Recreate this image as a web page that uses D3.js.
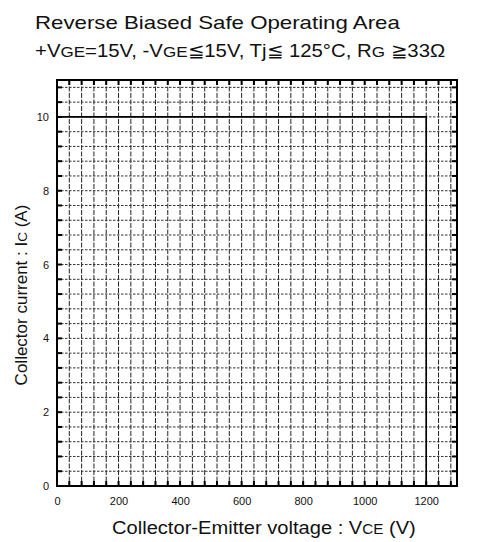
<!DOCTYPE html>
<html><head><meta charset="utf-8">
<script src="https://cdn.jsdelivr.net/npm/d3@7"></script>
<style>body{margin:0;background:#fff;} text{font-family:"Liberation Sans",Arial,sans-serif;fill:#111;}</style>
</head><body><svg id="c" width="479" height="542"></svg>
<script>
const xTicks = [0, 200, 400, 600, 800, 1000, 1200];
const yTicks = [0, 2, 4, 6, 8, 10];
const xDomain = [0, 1300];
const yDomain = [0, 11];
const xGridStep = 40;
const yGridStep = 0.4;
const soaV = [0, 1200, 1200];
const soaI = [10, 10, 0];

const svg = d3.select("#c");
const L = 57, R = 457, T = 80, B = 486;
const x = d3.scaleLinear().domain(xDomain).range([L, R]);
const y = d3.scaleLinear().domain(yDomain).range([B, T]);

const xg = d3.range(xGridStep, xDomain[1], xGridStep);
const yg = d3.range(yGridStep, yDomain[1] - 1e-9, yGridStep).map(v => +v.toFixed(2));

const g = svg.append("g");
g.selectAll(".vg").data(xg).enter().append("line")
  .attr("x1", d => x(d)).attr("x2", d => x(d)).attr("y1", T).attr("y2", B)
  .attr("stroke", "#222").attr("stroke-width", 1).attr("stroke-dasharray", "5,1.5");
g.selectAll(".hg").data(yg).enter().append("line")
  .attr("y1", d => y(d)).attr("y2", d => y(d)).attr("x1", L).attr("x2", R)
  .attr("stroke", "#333").attr("stroke-width", 1).attr("stroke-dasharray", "2.5,1.5");

// inner ticks
g.selectAll(".lt").data(yg).enter().append("line")
  .attr("x1", L).attr("x2", L + 5).attr("y1", d => y(d)).attr("y2", d => y(d))
  .attr("stroke", "#000").attr("stroke-width", 2);
g.selectAll(".rt").data(yg).enter().append("line")
  .attr("x1", R - 5).attr("x2", R).attr("y1", d => y(d)).attr("y2", d => y(d))
  .attr("stroke", "#000").attr("stroke-width", 2);
g.selectAll(".tt").data(xg).enter().append("line")
  .attr("x1", d => x(d)).attr("x2", d => x(d)).attr("y1", T).attr("y2", T + 5)
  .attr("stroke", "#000").attr("stroke-width", 2);
g.selectAll(".bt").data(xg).enter().append("line")
  .attr("x1", d => x(d)).attr("x2", d => x(d)).attr("y1", B - 5).attr("y2", B)
  .attr("stroke", "#000").attr("stroke-width", 2);

// SOA boundary
g.append("path")
  .attr("d", d3.line().x((d, i) => x(soaV[i])).y((d, i) => y(soaI[i]))(soaV))
  .attr("fill", "none").attr("stroke", "#000").attr("stroke-width", 1.6);

// frame
g.append("rect").attr("x", L).attr("y", T).attr("width", R - L).attr("height", B - T)
  .attr("fill", "none").attr("stroke", "#000").attr("stroke-width", 2);

// axes labels
const xAxis = d3.axisBottom(x).tickValues(xTicks).tickFormat(d3.format("d")).tickSize(0).tickPadding(11);
svg.append("g").attr("transform", `translate(0,${B})`).call(xAxis)
  .call(s => s.select(".domain").remove())
  .selectAll("text").style("font-size", "11px").style("font-family", "Liberation Sans, Arial, sans-serif").attr("fill", "#111");
const yAxis = d3.axisLeft(y).tickValues(yTicks).tickFormat(d3.format("d")).tickSize(0).tickPadding(8);
svg.append("g").attr("transform", `translate(${L},0)`).call(yAxis)
  .call(s => s.select(".domain").remove())
  .selectAll("text").style("font-size", "11px").style("font-family", "Liberation Sans, Arial, sans-serif").attr("fill", "#111");

function stretch(sel, x0, y0, width) {
  const w = sel.node().getComputedTextLength();
  const sx = width / w;
  sel.attr("x", 0).attr("y", 0).attr("text-anchor", "start")
    .attr("transform", `translate(${x0},${y0}) scale(${sx},1)`);
}

// titles
const t1 = svg.append("text").style("font-size", "18.5px").text("Reverse Biased Safe Operating Area");
stretch(t1, 35, 29, 365);
const st = svg.append("text").style("font-size", "18.5px");
st.append("tspan").text("+V");
st.append("tspan").style("font-size", "15.5px").text("GE");
st.append("tspan").text("=15V, -V");
st.append("tspan").style("font-size", "15.5px").text("GE");
st.append("tspan").text("\u226615V,  Tj\u2266 125°C, R");
st.append("tspan").style("font-size", "15.5px").text("G");
st.append("tspan").text(" \u226733\u03A9");
stretch(st, 35, 57, 413);

const xl = svg.append("text").style("font-size", "18.5px");
xl.append("tspan").text("Collector-Emitter voltage : V");
xl.append("tspan").style("font-size", "14px").text("CE");
xl.append("tspan").text(" (V)");
stretch(xl, 112, 534, 304);

const yl = svg.append("text").attr("transform", "translate(27,295) rotate(-90)").attr("text-anchor", "middle").style("font-size", "17px");
yl.append("tspan").text("Collector current  : I");
yl.append("tspan").style("font-size", "13.5px").text("C");
yl.append("tspan").text(" (A)");
</script></body></html>
